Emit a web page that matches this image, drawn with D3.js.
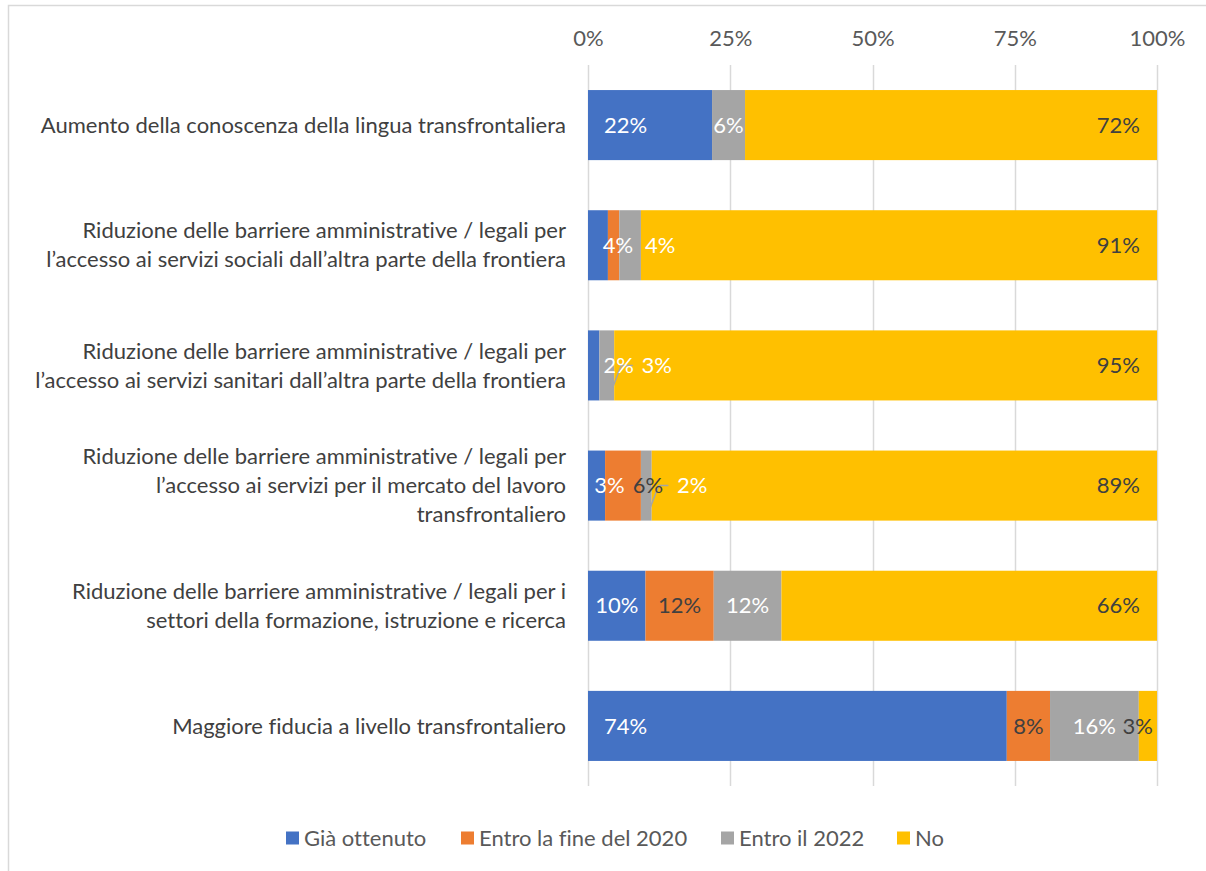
<!DOCTYPE html>
<html>
<head>
<meta charset="utf-8">
<script src="https://cdn.jsdelivr.net/npm/d3@7"></script>
<style>
  html, body { margin: 0; padding: 0; background: #fff; }
  svg { display: block; }
  text { font-variant-ligatures: none; font-feature-settings: "liga" 0; }
</style>
</head>
<body>
<svg id="chart" width="1206" height="871"></svg>
<script>
// categories (one per bar, lines of the wrapped label)
const categories = [
  ['Aumento della conoscenza della lingua transfrontaliera'],
  ['Riduzione delle barriere amministrative / legali per', 'l’accesso ai servizi sociali dall’altra parte della frontiera'],
  ['Riduzione delle barriere amministrative / legali per', 'l’accesso ai servizi sanitari dall’altra parte della frontiera'],
  ['Riduzione delle barriere amministrative / legali per', 'l’accesso ai servizi per il mercato del lavoro', 'transfrontaliero'],
  ['Riduzione delle barriere amministrative / legali per i', 'settori della formazione, istruzione e ricerca'],
  ['Maggiore fiducia a livello transfrontaliero']
]

const seriesNames = ['Già ottenuto', 'Entro la fine del 2020', 'Entro il 2022', 'No']

// shares in %
const giaOttenuto = [21.8, 3.5, 2.0, 3.0, 10.1, 73.6]
const entro2020 = [0, 2.0, 0, 6.3, 12.0, 7.6]
const entro2022 = [5.8, 3.8, 2.6, 1.9, 11.9, 15.6]
const no = [72.4, 90.7, 95.4, 88.8, 66.0, 3.2]

const tickValues = [0, 0.25, 0.5, 0.75, 1]

const colors = ['#4472c4', '#ed7d31', '#a5a5a5', '#ffc000']
const labelColors = ['#ffffff', '#404040', '#ffffff', '#404040']

// label placement: 'base' | 'center' | 'end' | 'none', with pixel nudges
// for the labels Excel moved by hand
const labelMode = [
  ['base', 'none', 'center', 'end'],
  ['center', 'none', 'center', 'end'],
  ['center', 'none', 'center', 'end'],
  ['center', 'center', 'center', 'end'],
  ['center', 'center', 'center', 'end'],
  ['base', 'center', 'center', 'end']
]
const labelNudge = {
  '1-0': 20, '1-2': 30,
  '2-0': 25, '2-2': 50,
  '3-0': 13, '3-1': 25, '3-2': 46,
  '5-3': 13
}
const leaderLines = ['2-2', '3-2']

const width = 1206
const height = 871
const margin = { top: 65, right: 49, bottom: 85, left: 588 }

const svg = d3.select('#chart')
const fontFamily = 'Lato, "Open Sans", sans-serif'
const fontSize = 22

// chart frame (cut at right and bottom as in the source)
svg.append('rect')
  .attr('x', 8.5).attr('y', 5.5)
  .attr('width', 1300).attr('height', 900)
  .attr('fill', 'none')
  .attr('stroke', '#d9d9d9')
  .attr('stroke-width', 1.5)

const x = d3.scaleLinear()
  .domain([0, 1])
  .range([margin.left, width - margin.right])

const y = d3.scaleBand()
  .domain(d3.range(categories.length))
  .range([margin.top, height - margin.bottom])
  .paddingInner(0.417)
  .paddingOuter(0.2085)

// build stacked rows
const rows = categories.map((c, i) => {
  const vals = [giaOttenuto[i], entro2020[i], entro2022[i], no[i]]
  const total = d3.sum(vals)
  let acc = 0
  return vals.map((v, s) => {
    const seg = { row: i, s, value: v, x0: acc / total, x1: (acc + v) / total }
    acc += v
    return seg
  })
})

// gridlines
svg.append('g')
  .selectAll('line')
  .data(tickValues)
  .join('line')
  .attr('x1', (d) => Math.round(x(d)) + 0.5)
  .attr('x2', (d) => Math.round(x(d)) + 0.5)
  .attr('y1', margin.top)
  .attr('y2', height - margin.bottom)
  .attr('stroke', '#d9d9d9')
  .attr('stroke-width', 1.5)

// top axis
const axis = svg.append('g')
  .attr('transform', `translate(0,${margin.top - 19})`)
  .call(d3.axisTop(x).tickValues(tickValues).tickFormat(d3.format('.0%')).tickSize(0).tickPadding(0))
axis.select('.domain').remove()
axis.selectAll('text')
  .attr('font-family', fontFamily)
  .attr('font-size', fontSize)
  .attr('fill', '#595959')

// bars
const segs = rows.flat()
svg.append('g')
  .selectAll('rect')
  .data(segs.filter((d) => d.value > 0))
  .join('rect')
  .attr('x', (d) => x(d.x0))
  .attr('y', (d) => y(d.row))
  .attr('width', (d) => x(d.x1) - x(d.x0))
  .attr('height', y.bandwidth())
  .attr('fill', (d) => colors[d.s])

// leader lines
svg.append('g')
  .selectAll('path')
  .data(leaderLines.map((k) => rows[+k.split('-')[0]][+k.split('-')[1]]))
  .join('path')
  .attr('d', (d) => {
    const cy = y(d.row) + y.bandwidth() / 2
    const sx = x(d.x1) - 3
    const lx = (x(d.x0) + x(d.x1)) / 2 + labelNudge[d.row + '-' + d.s]
    return `M${sx},${cy + 26}L${sx + 10},${cy}L${lx - 24},${cy}`
  })
  .attr('fill', 'none')
  .attr('stroke', '#a5a5a5')
  .attr('stroke-width', 1.5)

// value labels
svg.append('g')
  .attr('font-family', fontFamily)
  .attr('font-size', fontSize)
  .selectAll('text')
  .data(segs.filter((d) => labelMode[d.row][d.s] !== 'none'))
  .join('text')
  .each(function (d) {
    const mode = labelMode[d.row][d.s]
    const nudge = labelNudge[d.row + '-' + d.s] || 0
    let px, anchor
    if (mode === 'base') { px = x(d.x0) + 16; anchor = 'start' }
    else if (mode === 'end') { px = x(d.x1) - 17; anchor = 'end' }
    else { px = (x(d.x0) + x(d.x1)) / 2; anchor = 'middle' }
    d3.select(this)
      .attr('x', px + nudge)
      .attr('text-anchor', anchor)
  })
  .attr('y', (d) => y(d.row) + y.bandwidth() / 2)
  .attr('dy', '0.35em')
  .attr('fill', (d) => labelColors[d.s])
  .text((d) => Math.round(d.value) + '%')

// category labels
const catG = svg.append('g')
  .attr('font-family', fontFamily)
  .attr('font-size', fontSize)
  .attr('fill', '#404040')
  .attr('text-anchor', 'end')
categories.forEach((lines, i) => {
  const cy = y(i) + y.bandwidth() / 2
  const lh = 29
  const t = catG.append('text')
    .attr('x', margin.left - 22)
    .attr('y', cy - ((lines.length - 1) * lh) / 2)
  lines.forEach((l, j) => {
    t.append('tspan')
      .attr('x', margin.left - 22)
      .attr('dy', j === 0 ? '0.35em' : lh)
      .text(l)
  })
})

// legend
const legendX = [286, 461, 721, 897]
const legend = svg.append('g')
  .attr('font-family', fontFamily)
  .attr('font-size', fontSize)
  .attr('fill', '#595959')
  .selectAll('g')
  .data(seriesNames)
  .join('g')
  .attr('transform', (d, i) => `translate(${legendX[i]},838)`)
legend.append('rect')
  .attr('x', 0).attr('y', -6.5)
  .attr('width', 13).attr('height', 13)
  .attr('fill', (d, i) => colors[i])
legend.append('text')
  .attr('x', 18)
  .attr('dy', '0.35em')
  .text((d) => d)
</script>
</body>
</html>
